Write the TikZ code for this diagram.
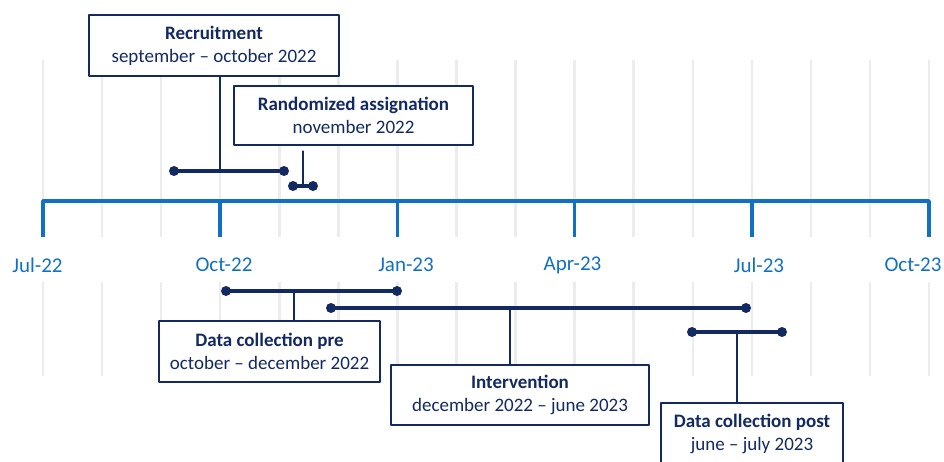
\documentclass[tikz,border=0pt]{standalone}
\usepackage{fontspec}
\setmainfont{Carlito}
\usetikzlibrary{positioning}
\definecolor{navy}{RGB}{19,41,97}
\definecolor{axisblue}{RGB}{16,112,196}
\definecolor{gridgray}{RGB}{236,236,236}
\begin{document}
\begin{tikzpicture}[x=1pt,y=-1pt, line join=round, line cap=round,
	phase/.style={draw=navy, line width=2.2pt, fill=white, align=center, text=navy, inner sep=0pt,
		font=\fontsize{19}{23}\selectfont},
	bar/.style={navy, line width=4pt},
	leader/.style={navy, line width=1.4pt},
	dot/.style={fill=navy}]
	\def\xo{43} \def\mo{59.07} % one month
	\def\r{5pt} % end dots
	\useasboundingbox (0,0) rectangle (944,462);
	% month grid
	\foreach \k in {0,...,15} {
		\draw[gridgray, line width=2.5pt, line cap=butt] (\xo+\k*\mo,60) -- (\xo+\k*\mo,237);
		\draw[gridgray, line width=2.5pt, line cap=butt] (\xo+\k*\mo,282) -- (\xo+\k*\mo,376);
	}
	% time axis
	\draw[axisblue, line width=3.5pt, line cap=butt] (\xo,237) -- (\xo,201) -- (\xo+15*\mo,201) -- (\xo+15*\mo,237);
	\foreach \k/\lx/\lab in {0/37.5/Jul-22, 3/224/Oct-22, 6/406/Jan-23, 9/572.5/Apr-23, 12/759/Jul-23, 15/913/Oct-23} {
		\draw[axisblue, line width=3.5pt, line cap=butt] (\xo+\k*\mo,201) -- (\xo+\k*\mo,237);
		\node[text=axisblue, font=\fontsize{21}{25}\selectfont] (m\k) at (\lx,265) {\lab};
	}
	% phases
	\node[phase, minimum width=250, minimum height=61] (recruit) at (214,45.5)
		{\textbf{Recruitment}\\september -- october 2022};
	\node[phase, minimum width=239, minimum height=59] (random) at (353.5,115.5)
		{\textbf{Randomized assignation}\\november 2022};
	\node[phase, minimum width=221, minimum height=61] (pre) at (269.5,351.5)
		{\textbf{Data collection pre}\\october -- december 2022};
	\node[phase, minimum width=258, minimum height=60] (interv) at (520,395)
		{\textbf{Intervention}\\december 2022 -- june 2023};
	\node[phase, minimum width=182, minimum height=61] (post) at (752,433.5)
		{\textbf{Data collection post}\\june -- july 2023};
	% bars
	\coordinate (recruitA) at (174,171); \coordinate (recruitB) at (284,171); \coordinate (recruitL) at (220,171);
	\coordinate (randomA) at (293,186); \coordinate (randomB) at (313,186); \coordinate (randomL) at (303,186);
	\coordinate (preA) at (226,291); \coordinate (preB) at (397,291); \coordinate (preL) at (294,291);
	\coordinate (intervA) at (331,308); \coordinate (intervB) at (746,308); \coordinate (intervL) at (510,308);
	\coordinate (postA) at (692,332); \coordinate (postB) at (782,332); \coordinate (postL) at (737,332);
	\foreach \p in {recruit,random,pre,interv,post} {
		\draw[bar] (\p A) -- (\p B);
		\fill[dot] (\p A) circle (\r) (\p B) circle (\r);
	}
	% leaders
	\draw[leader] (recruit.south -| recruitL) -- (recruitL);
	\draw[leader] ([yshift=-5pt]random.south -| randomL) -- (randomL);
	\draw[leader] (pre.north -| preL) -- (preL);
	\draw[leader] (interv.north -| intervL) -- (intervL);
	\draw[leader] (post.north -| postL) -- (postL);
\end{tikzpicture}
\end{document}
